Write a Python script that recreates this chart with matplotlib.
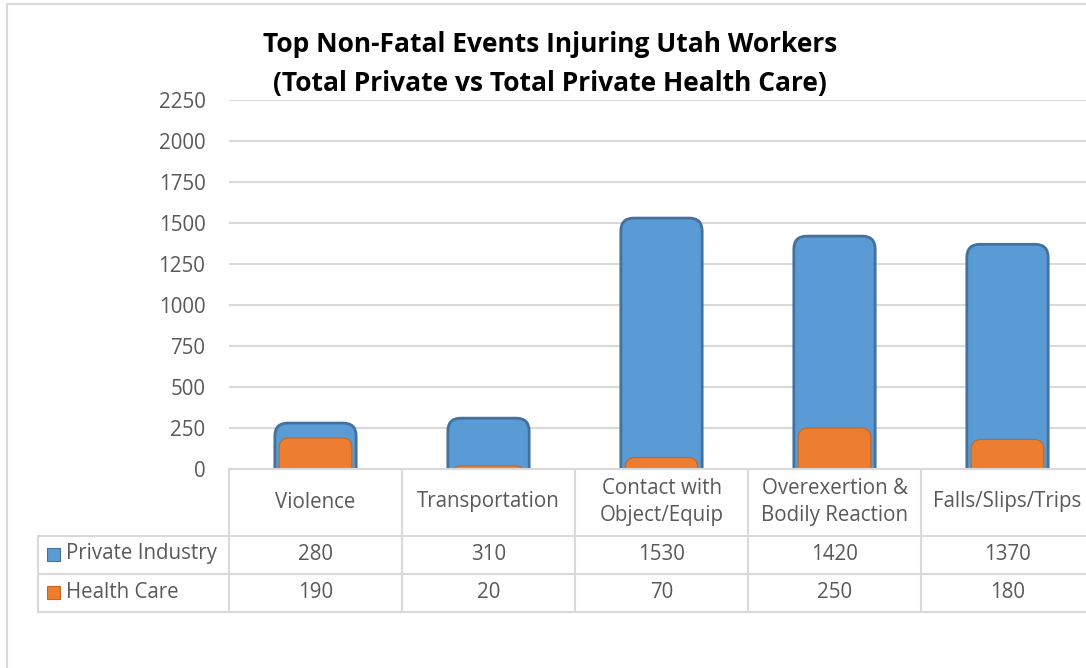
import matplotlib.pyplot as plt
import matplotlib.transforms as mtransforms
from matplotlib.patches import FancyBboxPatch
from matplotlib.lines import Line2D

categories = ["Violence", "Transportation", "Contact with\nObject/Equip",
              "Overexertion &\nBodily Reaction", "Falls/Slips/Trips"]
private_industry = [280, 310, 1530, 1420, 1370]
health_care = [190, 20, 70, 250, 180]
series_names = ["Private Industry", "Health Care"]
yticks = [0, 250, 500, 750, 1000, 1250, 1500, 1750, 2000, 2250]

W, H = 1086, 668
plt.rcParams['font.family'] = ['Open Sans', 'DejaVu Sans']
TXT = "#595959"
GRID = "#D9D9D9"
BLUE, BLUE_EDGE = "#5B9BD5", "#41719C"
ORANGE, ORANGE_EDGE = "#ED7D31", "#C5651F"
FS = 14.8


def fx(px):
    return px / W


def fy(py):
    return 1 - py / H


fig = plt.figure(figsize=(W / 100, H / 100), dpi=100)
ax = fig.add_axes([fx(229), fy(469), fx(1094) - fx(229), fy(100) - fy(469)])
ax.set_xlim(-0.5, 4.5)
ax.set_ylim(0, 2250)
ax.set_yticks(yticks)
ax.set_yticklabels([str(t) for t in yticks], color=TXT, fontsize=FS)
ax.tick_params(axis='y', length=0, pad=17)
ax.set_xticks([])
for s in ax.spines.values():
    s.set_visible(False)
ax.grid(axis='y', color=GRID, linewidth=1.5)
ax.set_axisbelow(True)

x = list(range(len(categories)))


def round_bars(bars, face, edge, lw, r_px):
    # swap plain rectangles for ones with rounded tops
    units_x = 5 / 865.0
    units_y = 2250 / 369.0
    r = r_px * units_x
    asp = units_y / units_x
    for rect in bars:
        bx, by = rect.get_x(), rect.get_y()
        bw, bh = rect.get_width(), rect.get_height()
        p = FancyBboxPatch((bx, by - 300), bw, bh + 300,
                           boxstyle=f"round,pad=0,rounding_size={r}",
                           mutation_aspect=asp, facecolor=face,
                           edgecolor=edge, linewidth=lw, zorder=3)
        ax.add_patch(p)
        rect.remove()


b1 = ax.bar(x, private_industry, width=0.47)
round_bars(b1, BLUE, BLUE_EDGE, 2.0, 13)
b2 = ax.bar(x, health_care, width=0.42)
round_bars(b2, ORANGE, ORANGE_EDGE, 0.8, 10)

fig.text(fx(550), fy(45), "Top Non-Fatal Events Injuring Utah Workers",
         ha='center', va='center', fontsize=19, fontweight='bold', color='black')
fig.text(fx(550), fy(83), "(Total Private vs Total Private Health Care)",
         ha='center', va='center', fontsize=19, fontweight='bold', color='black')

# data table under the axis
tr = mtransforms.blended_transform_factory(ax.transData, fig.transFigure)
lw = 1.5
for i in range(len(categories) + 1):
    fig.add_artist(Line2D([i - 0.5, i - 0.5], [fy(469), fy(612)], color=GRID,
                          linewidth=lw, transform=tr))
fig.add_artist(Line2D([fx(229), 1.01], [fy(469), fy(469)], color=GRID, linewidth=lw))
for py in [536, 574, 612]:
    fig.add_artist(Line2D([fx(38), 1.01], [fy(py), fy(py)], color=GRID, linewidth=lw))
fig.add_artist(Line2D([fx(38), fx(38)], [fy(536), fy(612)], color=GRID, linewidth=lw))

for i, cat in enumerate(categories):
    fig.text(i, fy(502), cat, transform=tr, ha='center', va='center',
             fontsize=FS, color=TXT, linespacing=1.4)
    fig.text(i, fy(554), str(private_industry[i]), transform=tr, ha='center',
             va='center', fontsize=FS, color=TXT)
    fig.text(i, fy(592), str(health_care[i]), transform=tr, ha='center',
             va='center', fontsize=FS, color=TXT)

for name, py, face, edge in [(series_names[0], 554, BLUE, BLUE_EDGE),
                             (series_names[1], 592, ORANGE, ORANGE_EDGE)]:
    fig.patches.append(plt.Rectangle((fx(47), fy(py + 7)), fx(13), fy(0) - fy(13),
                                     transform=fig.transFigure, facecolor=face,
                                     edgecolor=edge, linewidth=0.8))
    fig.text(fx(66), fy(py), name, ha='left', va='center', fontsize=FS, color=TXT)

# chart area border
fig.add_artist(Line2D([fx(7), 1.01], [fy(4), fy(4)], color=GRID, linewidth=1.5))
fig.add_artist(Line2D([fx(7), fx(7)], [fy(4), -0.01], color=GRID, linewidth=1.5))

fig.savefig("out.png", dpi=100)
